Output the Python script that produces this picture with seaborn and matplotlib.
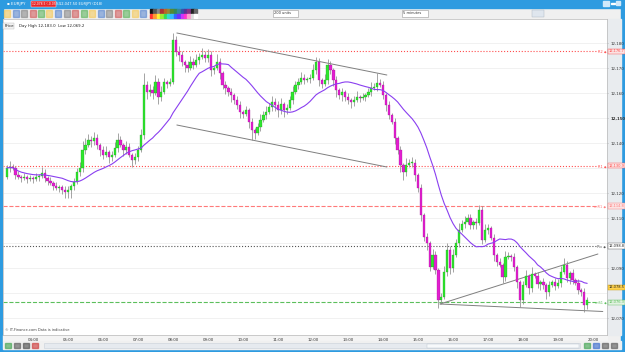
import numpy as np
import pandas as pd
import seaborn as sns
import matplotlib.pyplot as plt
from matplotlib.patches import Rectangle
from matplotlib.transforms import blended_transform_factory

# 5 minute candles, 03:15 -> 19:50, closes
first_open = 12126.4
closes = [
    12130.0, 12130.4, 12130.0, 12127.2, 12126.4, 12126.0, 12126.4, 12125.6, 12126.0,
    12125.6, 12126.4, 12126.8, 12128.0, 12126.0, 12124.8, 12124.0, 12122.8, 12122.0, 12122.4, 12121.2, 12120.4,
    12121.2, 12122.8, 12124.4, 12128.4, 12130.0, 12137.2, 12139.2, 12141.2, 12140.8, 12142.0, 12139.2, 12137.2,
    12135.2, 12136.4, 12134.4, 12135.2, 12138.0, 12141.2, 12139.2, 12137.2, 12138.4, 12135.2, 12133.2, 12134.4,
    12137.2, 12143.2, 12163.2, 12160.4, 12161.2, 12160.0, 12164.4, 12158.4, 12160.4, 12164.4, 12163.6, 12164.4,
    12181.2, 12176.4, 12175.2, 12172.4, 12171.2, 12170.0, 12172.4, 12171.2, 12173.2, 12174.4, 12175.2, 12174.0,
    12175.2, 12169.2, 12170.0, 12172.4, 12168.0, 12163.2, 12162.0, 12160.4, 12159.2, 12157.2, 12155.2, 12152.4,
    12151.6, 12153.2, 12148.4, 12145.2, 12144.0, 12146.4, 12149.2, 12151.2, 12152.4, 12154.4, 12156.4, 12155.2,
    12153.2, 12155.6, 12153.2, 12154.0, 12157.2, 12160.4, 12163.2, 12164.4, 12166.0, 12165.2, 12165.6, 12166.0,
    12169.2, 12172.4, 12165.2, 12163.6, 12165.2, 12171.2, 12169.2, 12165.2, 12161.2, 12159.2, 12160.4, 12158.4,
    12157.2, 12156.4, 12157.2, 12158.4, 12158.0, 12158.4, 12159.2, 12160.4, 12162.0, 12162.4, 12164.0, 12163.2,
    12159.2, 12155.2, 12151.2, 12148.4, 12142.0, 12137.2, 12131.2, 12128.4, 12131.2, 12132.0, 12132.0, 12127.2,
    12122.0, 12111.2, 12102.4, 12100.0, 12090.4, 12095.2, 12089.2, 12077.2, 12078.4, 12088.4, 12097.2, 12090.0,
    12095.2, 12100.0, 12105.2, 12107.6, 12108.4, 12110.0, 12107.2, 12108.4, 12108.0, 12113.2, 12101.2, 12105.2,
    12106.0, 12102.0, 12095.2, 12092.4, 12091.2, 12086.4, 12094.4, 12094.8, 12094.4, 12090.4, 12084.4, 12077.2,
    12083.2, 12086.8, 12082.0, 12087.6, 12086.8, 12083.6, 12084.4, 12083.2, 12080.4, 12083.2, 12084.4, 12082.8,
    12084.0, 12088.4, 12091.2, 12086.0, 12088.0, 12085.2, 12084.0, 12081.2, 12080.4, 12075.2, 12077.2,
]
# wick length above / below the body (price units), one row per hour
wick_up = [
    1.2, 2.4, 1.2, 0.8, 1.6, 0.8, 1.6, 0.8, 1.2,
    0.8, 1.6, 0.8, 2.4, 1.6, 0.8, 1.6, 0.8, 1.6, 0.8, 0.8, 1.6,
    1.6, 0.8, 1.6, 1.6, 2.4, 3.6, 2.8, 2.4, 1.6, 2.4, 1.6, 0.8,
    1.6, 2.4, 0.8, 1.6, 2.4, 2.8, 1.6, 0.8, 2.4, 1.6, 0.8, 1.6,
    1.6, 2.4, 4.8, 1.6, 2.4, 1.6, 2.8, 1.6, 2.4, 1.6, 0.8, 1.6,
    2.8, 1.6, 2.4, 1.6, 0.8, 1.6, 2.4, 1.6, 2.4, 1.6, 2.8, 1.6,
    2.4, 1.6, 0.8, 3.2, 1.6, 0.8, 1.6, 0.8, 1.6, 0.8, 1.6, 1.6,
    0.8, 1.6, 0.8, 1.6, 0.8, 1.6, 2.4, 1.6, 2.4, 1.6, 2.4, 1.6,
    1.6, 2.4, 0.8, 1.6, 1.6, 2.4, 1.6, 1.6, 2.4, 1.6, 0.8, 1.6,
    2.4, 2.0, 1.6, 0.8, 2.4, 2.4, 1.6, 0.8, 1.6, 0.8, 1.6, 0.8,
    1.6, 0.8, 1.6, 2.4, 0.8, 1.6, 0.8, 1.6, 2.4, 1.6, 4.0, 1.6,
    1.6, 0.8, 1.6, 0.8, 1.6, 0.8, 1.6, 0.8, 2.8, 1.6, 2.4, 1.6,
    0.8, 1.6, 0.8, 1.6, 0.8, 2.4, 1.6, 0.8, 1.6, 2.4, 2.8, 1.6,
    2.4, 1.6, 2.8, 1.6, 2.4, 1.6, 1.6, 0.8, 1.6, 2.0, 1.6, 2.4,
    1.6, 0.8, 1.6, 0.8, 1.6, 0.8, 2.4, 1.6, 0.8, 1.6, 0.8, 0.8,
    1.6, 2.4, 0.8, 2.8, 0.8, 1.6, 0.8, 1.6, 0.8, 1.6, 0.8, 1.6,
    1.6, 2.4, 2.8, 1.6, 0.8, 1.6, 0.8, 1.6, 0.8, 1.6, 1.2,
]
wick_dn = [
    0.8, 1.6, 0.8, 1.6, 0.8, 1.6, 0.8, 1.6, 0.8,
    1.6, 0.8, 1.6, 0.8, 1.6, 1.6, 0.8, 1.6, 0.8, 1.6, 1.6, 2.4,
    2.4, 3.2, 1.6, 0.8, 1.6, 1.6, 1.6, 0.8, 2.4, 1.6, 1.6, 2.4,
    1.6, 0.8, 2.4, 1.6, 0.8, 1.6, 0.8, 2.4, 1.6, 0.8, 2.8, 1.6,
    1.6, 0.8, 1.6, 2.8, 1.6, 2.4, 0.8, 2.8, 1.6, 0.8, 1.6, 0.8,
    0.8, 1.6, 2.4, 1.6, 2.8, 1.6, 0.8, 1.6, 0.8, 1.6, 0.8, 1.6,
    1.6, 2.4, 1.6, 0.8, 2.4, 1.6, 2.4, 1.6, 2.8, 1.6, 1.6, 2.4,
    1.6, 0.8, 2.4, 4.0, 2.4, 0.8, 1.6, 0.8, 1.6, 0.8, 1.6, 2.4,
    2.8, 1.6, 2.8, 1.6, 0.8, 1.6, 0.8, 1.6, 0.8, 1.6, 0.8, 1.6,
    0.8, 1.6, 2.4, 1.6, 0.8, 1.6, 1.6, 2.4, 2.8, 1.6, 2.4, 1.6,
    1.6, 2.4, 1.6, 0.8, 1.6, 0.8, 1.6, 0.8, 1.6, 0.8, 1.6, 0.8,
    1.6, 2.4, 1.6, 0.8, 2.4, 1.6, 2.8, 3.2, 1.6, 0.8, 1.6, 2.4,
    1.6, 2.4, 1.6, 2.8, 1.6, 0.8, 1.6, 3.2, 1.6, 0.8, 1.6, 2.4,
    1.6, 0.8, 1.6, 0.8, 1.6, 0.8, 1.6, 1.6, 2.4, 0.8, 1.6, 0.8,
    1.6, 0.8, 2.4, 1.6, 0.8, 2.4, 1.6, 0.8, 1.6, 1.6, 2.4, 2.8,
    1.6, 0.8, 2.4, 1.6, 0.8, 1.6, 2.4, 1.6, 2.8, 1.6, 0.8, 1.6,
    0.8, 1.6, 0.8, 1.6, 2.4, 1.6, 0.8, 1.6, 1.6, 2.8, 1.6,
]

# horizontal levels: (price, colour, linestyle, tag)
levels = [
    (12176.7, "#ff4d4d", ":", "R2"),
    (12130.9, "#ff4d4d", ":", "R1"),
    (12114.8, "#ff7a7a", "--", "mR1"),
    (12098.8, "#555555", ":", "Piv"),
    (12076.3, "#5cbf5c", "--", "mS1"),
]
# hand drawn trend lines: (hour0, price0, hour1, price1)
trend_lines = [
    (8.11, 12184.0, 14.11, 12167.2),
    (8.11, 12147.2, 14.11, 12130.4),
    (15.63, 12075.6, 20.14, 12095.6),
    (15.63, 12075.6, 20.28, 12072.6),
]
yticks = [12070, 12090, 12110, 12120, 12140, 12150, 12160, 12170, 12180]
xticks = list(range(4, 21))
xlabels = ["%02d:00" % h for h in xticks]
current_price = 12078.5

stamps = pd.date_range("2024-01-01 03:15", periods=len(closes), freq="5min")
hours = (stamps - stamps[0].normalize()) / pd.Timedelta(hours=1)
df = pd.DataFrame({"hour": np.asarray(hours), "close": closes})
df["open"] = [first_open] + closes[:-1]
df["high"] = df[["open", "close"]].max(axis=1) + wick_up
df["low"] = df[["open", "close"]].min(axis=1) - wick_dn
df["ma"] = df["close"].rolling(20, min_periods=1).mean()

sns.set_style("white")
plt.rcParams["font.family"] = ["DejaVu Sans"]

W, H = 625, 352
fig = plt.figure(figsize=(W / 100, H / 100), dpi=100)
fig.patch.set_facecolor("#f0f0f0")

def px(x0, y0, w, h, **kw):
    fig.patches.append(Rectangle((x0 / W, 1 - (y0 + h) / H), w / W, h / H, zorder=-5,
                                 transform=fig.transFigure, figure=fig, **kw))

# window chrome
px(0, 0, W, 8, color="#2e9be0")
px(0, 0, 3, H, color="#2e9be0")
px(621, 0, 4, H, color="#2e9be0")
px(0, 349, W, 3, color="#2e9be0")
px(607, 19, 14, 316, color="#e9ecef")
px(3, 335, 604, 6, color="#f4f4f4")
px(3, 341, 618, 8, color="#f0f0f0")
px(44, 343, 536, 5, color="#e6eaef", ec="#c9d0d8", lw=0.4)
px(427, 343.5, 152, 4, color="#f7f9fb", ec="#b8c2cc", lw=0.3)
for k, c in enumerate(["#3aa04a", "#555555", "#444444", "#cc3333"]):
    px(5 + 9 * k, 343, 6, 5, color=c, alpha=0.6)
for k, c in enumerate(["#3aa04a", "#3366cc", "#555555", "#555555"]):
    px(584 + 9 * k, 343, 6, 5, color=c, alpha=0.6)
px(31, 1, 25, 6, color="#e8262a", ec="white", lw=0.3)
px(603, 1, 6, 5, color="#cfe8fa")
px(611, 3, 4, 1, color="white")
px(616, 1, 4, 4, color="#cfe8fa")
px(273, 10, 25, 7, color="white", ec="#999999", lw=0.4)
px(402, 10, 26, 7, color="white", ec="#999999", lw=0.4)
px(532, 10, 12, 7, color="#dfe6ee", ec="#aab4bf", lw=0.3)
palette = ["#111111", "#555555", "#888888", "#aa3333", "#bb6622", "#998833", "#558833", "#338855",
           "#338899", "#3355aa", "#553399", "#883388", "#222222", "#666666"]
bright = ["#ff3333", "#ff9933", "#ffee33", "#99ee33", "#33dd55", "#33ddcc", "#33bbff", "#3366ff",
          "#6633ff", "#cc33ff", "#ff33cc", "#ff99cc", "#dddddd", "#ffffff"]
for k in range(14):
    px(150 + 3.4 * k, 9, 3.2, 4, color=palette[k])
    px(150 + 3.4 * k, 13.5, 3.2, 4, color=bright[k])
for k in range(17):
    px(4 + 8.5 * k, 10, 6, 7, color=["#f5c342", "#4477cc", "#777777", "#cc4444", "#44aa44"][k % 5], alpha=0.5)

fig.text(7 / W, 1 - 4 / H, "▪ EURJPY", fontsize=3.0, color="white", va="center")
fig.text(32 / W, 1 - 4 / H, "12,078.5 (-0.05%)", fontsize=2.2, color="white", va="center")
fig.text(59 / W, 1 - 4 / H, "12,047.50 EURJPY (D18)", fontsize=2.6, color="white", va="center")
fig.text(274 / W, 1 - 13.5 / H, "200 units", fontsize=2.6, color="#333333", va="center")
fig.text(403 / W, 1 - 13.5 / H, "5 minutes", fontsize=2.6, color="#333333", va="center")

ax = fig.add_axes([3 / W, 17 / H, 604 / W, 316 / H])
ax.set_facecolor("white")
ax.set_xlim(3.143, 20.4)
ax.set_ylim(12063.2, 12189.6)

for p in range(12070, 12190, 10):
    ax.axhline(p, color="#ececec", lw=0.5, zorder=0)

for p, c, ls, tag in levels:
    ax.axhline(p, xmax=0.985, color=c, lw=0.8, ls=ls, zorder=1)

for x0, y0, x1, y1 in trend_lines:
    ax.plot([x0, x1], [y0, y1], color="#7f7f7f", lw=0.7, zorder=2)

up = df["close"] >= df["open"]
ax.vlines(df["hour"], df["low"], df["high"], color="#8c8c8c", lw=0.55, zorder=3)
body = (df["close"] - df["open"]).abs().clip(lower=0.25)
ax.bar(df["hour"], body, bottom=df[["open", "close"]].min(axis=1), width=0.064,
       color=np.where(up, "#2ee62e", "#e21fd0"), edgecolor=np.where(up, "#1c9a1c", "#9c1590"),
       linewidth=0.2, zorder=4)

sns.lineplot(data=df, x="hour", y="ma", ax=ax, color="#8a3ff0", lw=0.8, zorder=5)

ax.set_xlabel("")
ax.set_ylabel("")
for s in ax.spines.values():
    s.set_color("#b8b8b8")
    s.set_linewidth(0.5)
ax.set_xticks(xticks)
ax.set_xticklabels(xlabels, fontsize=2.8, color="#333333")
ax.tick_params(axis="x", length=1.2, width=0.4, pad=0.8, color="#999999")
ax.yaxis.tick_right()
ax.set_yticks(yticks)
ax.set_yticklabels(["{:,}".format(v) for v in yticks], fontsize=2.8, color="#333333")
ax.tick_params(axis="y", length=1.0, width=0.4, pad=1.2, color="#999999")
for lab in ax.get_yticklabels():
    if lab.get_text() == "12,150":
        lab.set_fontweight("bold")

tr = blended_transform_factory(ax.transAxes, ax.transData)
tag_text = {"R2": "R2 ◆", "R1": "R1 ◆", "mR1": "mR1 ◆", "Piv": "Piv ◆", "mS1": "mS1 ◆"}
for p, c, ls, tag in levels:
    ax.text(0.999, p - 0.2, tag_text[tag], transform=tr, fontsize=2.5, color=c,
            ha="right", va="center")
    ax.text(1.003, p, "{:,.1f}".format(p), transform=tr, fontsize=2.6, color=c if c != "#555555" else "#222222",
            ha="left", va="center", clip_on=False,
            bbox=dict(boxstyle="square,pad=0.15", fc="#fbe3e3" if "ff" in c else ("#e2f2e2" if tag == "mS1" else "white"),
                      ec=c, lw=0.3))
ax.text(1.003, 12082.3, "{:,.1f}".format(current_price), transform=tr, fontsize=2.6, color="#222222",
        ha="left", va="center", clip_on=False,
        bbox=dict(boxstyle="square,pad=0.15", fc="#ffd24d", ec="#c99a00", lw=0.3))
ax.text(0.003, 0.008, "© IT-Finance.com Data is indicative", transform=ax.transAxes,
        fontsize=2.6, color="#444444", ha="left", va="bottom")
ax.text(0.002, 0.985, "Price", transform=ax.transAxes, fontsize=2.8, color="#222222", va="top",
        bbox=dict(boxstyle="square,pad=0.2", fc="#f2f2f2", ec="#bbbbbb", lw=0.3))
ax.text(0.027, 0.985, "Day High 12,183.0  Low 12,069.2", transform=ax.transAxes, fontsize=2.8,
        color="#222222", va="top")

fig.savefig("out.png", dpi=100)
